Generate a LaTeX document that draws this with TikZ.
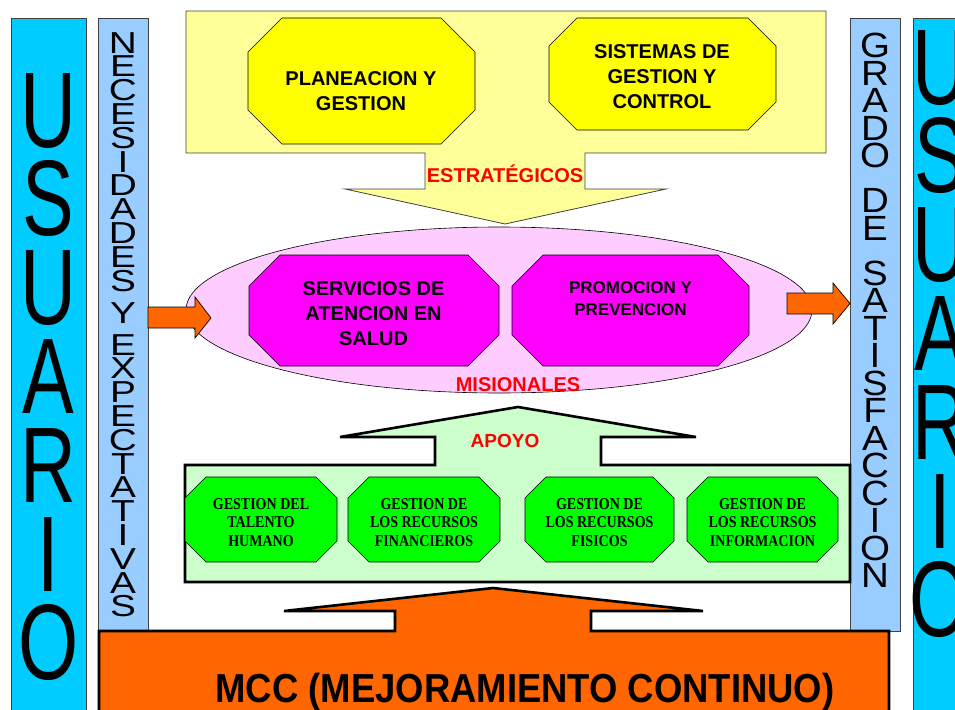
\documentclass[tikz,border=0pt]{standalone}
\usepackage{fontspec}
\setmainfont{Liberation Sans}
\newfontfamily\mccfont[FakeStretch=0.9]{Liberation Sans}
\newfontfamily\gfont[FakeStretch=0.85]{Liberation Serif}
\newfontfamily\usrfont[FakeStretch=0.72]{Liberation Sans}
\newfontfamily\necfont[FakeStretch=1.28]{Liberation Sans}
\newfontfamily\grafont[FakeStretch=1.1]{Liberation Sans}
\usetikzlibrary{shapes.geometric}
\definecolor{cyanbar}{HTML}{00CCFF}
\definecolor{bluebar}{HTML}{99CCFF}
\definecolor{lyellow}{HTML}{FFFF99}
\definecolor{dyellow}{HTML}{FFFF00}
\definecolor{lpink}{HTML}{FFCCFF}
\definecolor{dmag}{HTML}{FF00FF}
\definecolor{lgreen}{HTML}{CCFFCC}
\definecolor{dgreen}{HTML}{00FF00}
\definecolor{orng}{HTML}{FF6600}
\definecolor{redtxt}{HTML}{FF0000}
\newcommand\octagonshape[6]{\draw[#6] (#1+#5,#2) -- (#3-#5,#2) -- (#3,#2+#5) -- (#3,#4-#5) -- (#3-#5,#4) -- (#1+#5,#4) -- (#1,#4-#5) -- (#1,#2+#5) -- cycle;}
\tikzset{
  barbox/.style={draw=black!75, line width=0.8pt},
  octline/.style={draw=black, line width=0.6pt},
  thickline/.style={draw=black, line width=2.6pt, line join=miter},
  lbl/.style={inner sep=0pt, align=center, font=\bfseries\fontsize{20}{25}\selectfont},
  redlbl/.style={inner sep=0pt, text=redtxt, font=\bfseries\fontsize{20}{25}\selectfont},
  glbl/.style={inner sep=0pt, align=center, font=\gfont\bfseries\fontsize{16.5}{18.3}\selectfont},
  usr/.style={inner sep=0pt, align=center, anchor=north, font=\usrfont\fontsize{107.5}{88.8}\selectfont},
  sidearrow/.style={fill=orng, draw=black, line width=0.7pt},
}
\begin{document}
\begin{tikzpicture}[x=1pt, y=-1pt]
\path[use as bounding box] (0,0) rectangle (955,709);
\clip (0,0) rectangle (955,709);

% side bars
\path[barbox, fill=cyanbar] (11,18) rectangle (86,720);
\path[barbox, fill=cyanbar] (913,18) rectangle (988,720);
\path[barbox, fill=bluebar] (98,18) rectangle (148,630);
\path[barbox, fill=bluebar] (850,18) rectangle (900,631);

\node[usr] (usrL) at (48.5,73) {U\\S\\U\\A\\R\\I\\O};
\node[usr] (usrR) at (940,30) {U\\S\\U\\A\\R\\I\\O};
\node[inner sep=0pt, align=center, anchor=north, font=\necfont\fontsize{30.3}{23.8}\selectfont] (nec) at (123,32)
  {N\\E\\C\\E\\S\\I\\D\\A\\D\\E\\S\\[8.2pt]Y\\[8.2pt]E\\X\\P\\E\\C\\T\\A\\T\\I\\V\\A\\S};
\node[inner sep=0pt, align=center, anchor=north, font=\grafont\fontsize{35}{27.5}\selectfont] (gra) at (875,33)
  {G\\R\\A\\D\\O\\[17.5pt]D\\E\\[17.5pt]S\\A\\T\\I\\S\\F\\A\\C\\C\\I\\O\\N};

% strategic block with down arrow
\draw[fill=lyellow, draw=black!75, line width=0.8pt]
  (186,11) -- (826,11) -- (826,153) -- (585,153) -- (585,189) -- (666,189) -- (505,224)
  -- (345,189) -- (425,189) -- (425,153) -- (186,153) -- cycle;
\octagonshape{248}{18}{475}{144}{34}{octline, fill=dyellow}
\octagonshape{549}{18}{776}{130}{28}{octline, fill=dyellow}
\node[lbl] (plan) at (361,91.2) {PLANEACION Y\\GESTION};
\node[lbl] (sist) at (662,77) {SISTEMAS DE\\GESTION Y\\CONTROL};
\node[redlbl, anchor=base] (estr) at (505,182) {ESTRATÉGICOS};

% misional ellipse
\node[ellipse, draw=black, line width=0.6pt, fill=lpink, minimum width=626pt, minimum height=166pt, inner sep=0pt] (mis) at (499,310) {};
\octagonshape{249}{255}{499}{366}{31}{octline, fill=dmag}
\octagonshape{512}{255}{749}{366}{31}{octline, fill=dmag}
\node[lbl] (serv) at (373.5,313.4) {SERVICIOS DE\\ATENCION EN\\SALUD};
\node[lbl, font=\bfseries\fontsize{17}{22}\selectfont] (prom) at (630.5,299) {PROMOCION Y\\PREVENCION};
\node[redlbl, anchor=base] (misl) at (518,391.7) {MISIONALES};

% side orange arrows
\draw[sidearrow] (148,307) -- (195,307) -- (195,297) -- (211,318) -- (195,338) -- (195,328) -- (148,328) -- cycle;
\draw[sidearrow] (787,293) -- (833,293) -- (833,283) -- (850,303.5) -- (833,324) -- (833,314) -- (787,314) -- cycle;

% support block with up arrow
\draw[thickline, fill=lgreen]
  (185,582) -- (850,582) -- (850,465) -- (601,465) -- (601,437) -- (696,437) -- (518,407)
  -- (340,437) -- (435,437) -- (435,465) -- (185,465) -- cycle;
\node[redlbl, anchor=base, font=\bfseries\fontsize{19}{24}\selectfont] (apoyo) at (505,447) {APOYO};
\octagonshape{185}{477}{337}{562}{21}{octline, fill=dgreen}
\octagonshape{348}{477}{500}{562}{21}{octline, fill=dgreen}
\octagonshape{525}{477}{674}{562}{21}{octline, fill=dgreen}
\octagonshape{687}{477}{838}{562}{21}{octline, fill=dgreen}
\node[glbl] (g1) at (261,522.5) {GESTION DEL\\TALENTO\\HUMANO};
\node[glbl] (g2) at (424,522.5) {GESTION DE\\LOS RECURSOS\\FINANCIEROS};
\node[glbl] (g3) at (599.5,522.5) {GESTION DE\\LOS RECURSOS\\FISICOS};
\node[glbl] (g4) at (762.5,522.5) {GESTION DE\\LOS RECURSOS\\INFORMACION};

% continuous improvement block with up arrow
\draw[thickline, fill=orng]
  (99,720) -- (99,631) -- (395,631) -- (395,611) -- (284,611) -- (493,588) -- (703,611)
  -- (591,611) -- (591,631) -- (889,631) -- (889,720) -- cycle;
\node[inner sep=0pt, anchor=base, font=\mccfont\bfseries\fontsize{40.5}{48}\selectfont] (mcc) at (525,702) {MCC (MEJORAMIENTO CONTINUO)};
\end{tikzpicture}
\end{document}
